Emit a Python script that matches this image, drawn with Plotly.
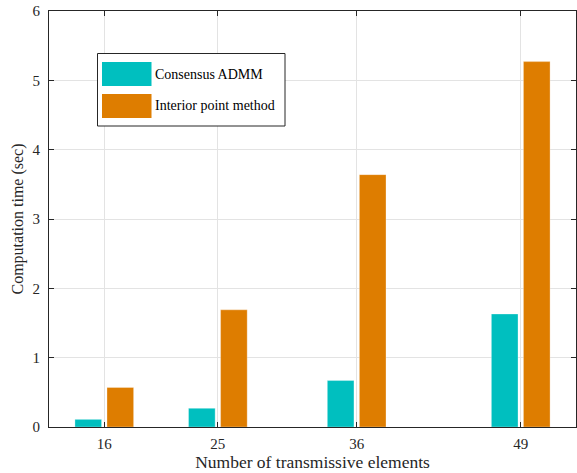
import plotly.graph_objects as go

# Number of transmissive elements and measured computation times (seconds)
elements = [16, 25, 36, 49]
admm_time = [0.11, 0.27, 0.67, 1.63]
ipm_time = [0.57, 1.69, 3.64, 5.27]
series_names = ["Consensus ADMM", "Interior point method"]
y_ticks = [0, 1, 2, 3, 4, 5, 6]

CYAN = "#00BFBF"
ORANGE = "#DE7D00"
FONT = "Liberation Serif, Times New Roman, serif"

W, H = 577, 473
L, R, T, B = 49, 1, 11, 46
PW, PH = W - L - R, H - T - B

bar_w = 2.11
shift = 1.27

fig = go.Figure()
fig.add_trace(go.Bar(x=elements, y=admm_time, name=series_names[0],
                     marker=dict(color=CYAN, line=dict(color="rgba(255,255,255,0.6)", width=0.5)),
                     width=bar_w, offset=-shift - bar_w / 2, showlegend=False))
fig.add_trace(go.Bar(x=elements, y=ipm_time, name=series_names[1],
                     marker=dict(color=ORANGE, line=dict(color="rgba(255,255,255,0.6)", width=0.5)),
                     width=bar_w, offset=shift - bar_w / 2, showlegend=False))


def px_x(p):
    return (p - L) / PW


def px_y(p):
    return (T + PH - p) / PH


# Boxed legend with large colour patches
shapes = [dict(type="rect", xref="paper", yref="paper",
               x0=px_x(97.5), x1=px_x(285), y0=px_y(126), y1=px_y(53.5),
               line=dict(color="#262626", width=1), fillcolor="white", layer="above")]
annotations = []
for i, (name, col) in enumerate(zip(series_names, [CYAN, ORANGE])):
    top = 62 + 32 * i
    shapes.append(dict(type="rect", xref="paper", yref="paper",
                       x0=px_x(102), x1=px_x(151.5), y0=px_y(top + 24), y1=px_y(top),
                       line=dict(width=0), fillcolor=col, layer="above"))
    annotations.append(dict(text=name, xref="paper", yref="paper",
                            x=px_x(152.5), y=px_y(top + 12), xanchor="left", yanchor="middle",
                            showarrow=False, font=dict(family=FONT, size=14, color="black")))

fig.update_layout(
    width=W, height=H,
    margin=dict(l=L, r=R, t=T, b=B),
    paper_bgcolor="white", plot_bgcolor="white",
    font=dict(family=FONT, color="#262626"),
    shapes=shapes, annotations=annotations,
    xaxis=dict(range=[16 - 4.38, 49 + 4.38], tickvals=elements,
               ticktext=[str(v) for v in elements],
               ticks="inside", ticklen=5, tickcolor="#262626",
               showline=True, linecolor="#262626", linewidth=1, mirror="ticks",
               showgrid=True, gridcolor="#E3E3E3", gridwidth=1, zeroline=False,
               tickfont=dict(family=FONT, size=15, color="#262626"),
               ticklabelstandoff=3,
               title=dict(text="Number of transmissive elements", standoff=2,
                          font=dict(family=FONT, size=17.5, color="#262626"))),
    yaxis=dict(range=[0, 6], tickvals=y_ticks,
               ticks="inside", ticklen=5, tickcolor="#262626",
               showline=True, linecolor="#262626", linewidth=1, mirror="ticks",
               showgrid=True, gridcolor="#E3E3E3", gridwidth=1, zeroline=False,
               tickfont=dict(family=FONT, size=15, color="#262626"),
               ticklabelstandoff=5,
               title=dict(text="Computation time (sec)", standoff=4,
                          font=dict(family=FONT, size=16, color="#262626"))),
)

fig.write_html("out.html")
